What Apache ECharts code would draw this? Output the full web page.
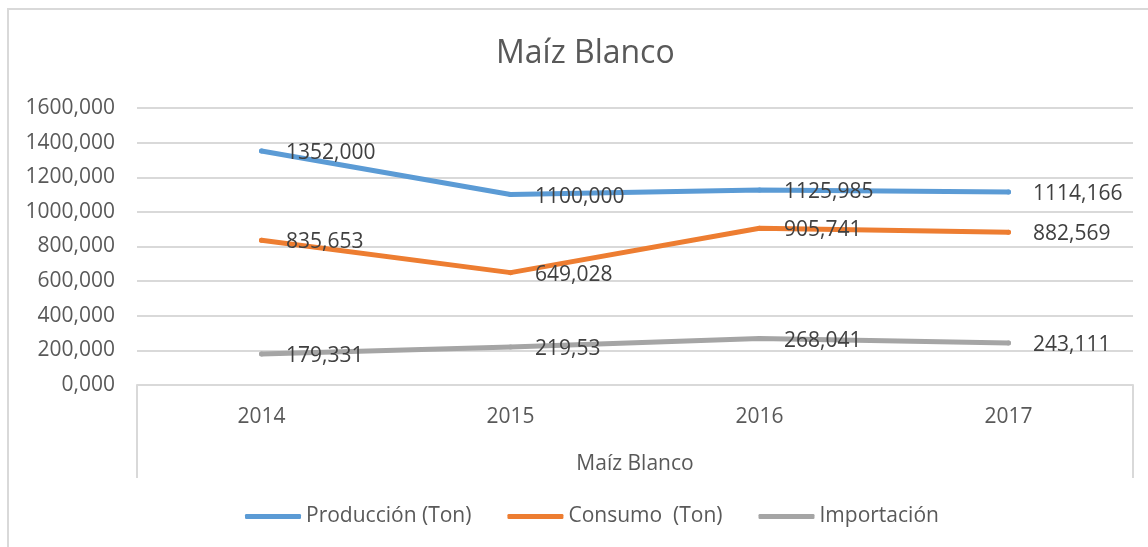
<!DOCTYPE html>
<html>
<head>
<meta charset="utf-8">
<script src="https://cdn.jsdelivr.net/npm/echarts@6/dist/echarts.min.js"></script>
<style>
  html, body { margin: 0; padding: 0; background: #fff; }
  #chart { width: 1148px; height: 547px; position: relative; }
  .frame {
    position: absolute; left: 7px; top: 8px; width: 1160px; height: 560px;
    border-left: 2px solid #d9d9d9; border-top: 2px solid #d9d9d9;
    pointer-events: none;
  }
</style>
</head>
<body>
<div id="chart"></div>
<div class="frame"></div>
<script>
const years = ["2014", "2015", "2016", "2017"]
const groupName = ["Maíz Blanco"]
const produccion = [1352, 1100, 1125.985, 1114.166]
const consumo = [835.653, 649.028, 905.741, 882.569]
const importacion = [179.331, 219.53, 268.041, 243.111]
const produccionLabels = ["1352,000", "1100,000", "1125,985", "1114,166"]
const consumoLabels = ["835,653", "649,028", "905,741", "882,569"]
const importacionLabels = ["179,331", "219,53", "268,041", "243,111"]

const font = "'Open Sans', 'DejaVu Sans', sans-serif"

const makeSeries = (name, values, labels, color) => ({
  name: name,
  type: "line",
  data: values,
  symbol: "circle",
  symbolSize: 5,
  itemStyle: { color: color },
  lineStyle: { width: 5, color: color, cap: "round", join: "round" },
  label: {
    show: true,
    position: "right",
    distance: 22,
    offset: [0, 2],
    fontFamily: font,
    fontSize: 21,
    color: "#404040",
    formatter: (p) => labels[p.dataIndex]
  },
  emphasis: { disabled: true },
  xAxisIndex: 0
})

const chart = echarts.init(document.getElementById("chart"))
chart.setOption({
  animation: false,
  title: {
    text: "Maíz Blanco",
    left: 491,
    top: 33,
    textStyle: { fontFamily: font, fontSize: 32, fontWeight: "normal", color: "#595959" }
  },
  legend: {
    left: 240,
    top: 501,
    icon: "roundRect",
    itemWidth: 56,
    itemHeight: 5,
    itemGap: 36,
    textStyle: { fontFamily: font, fontSize: 21, color: "#595959" },
    data: ["Producción (Ton)", "Consumo  (Ton)", "Importación"]
  },
  grid: { left: 137, right: 15, top: 108, bottom: 162 },
  xAxis: [
    {
      type: "category",
      data: years,
      boundaryGap: true,
      axisLine: { show: true, lineStyle: { color: "#d9d9d9", width: 2 } },
      axisTick: { show: false },
      axisLabel: { margin: 22, fontFamily: font, fontSize: 21, color: "#595959" }
    },
    {
      type: "category",
      data: groupName,
      position: "bottom",
      boundaryGap: true,
      axisLine: { show: false },
      axisTick: { show: true, length: 93, lineStyle: { color: "#d9d9d9", width: 2 } },
      axisLabel: { margin: 69, fontFamily: font, fontSize: 21, color: "#595959" }
    }
  ],
  yAxis: {
    type: "value",
    min: 0,
    max: 1600,
    interval: 200,
    axisLine: { show: false },
    axisTick: { show: false },
    splitLine: { lineStyle: { color: "#d9d9d9", width: 2 } },
    axisLabel: {
      margin: 22,
      fontFamily: font,
      fontSize: 21,
      color: "#595959",
      formatter: (v) => v + ",000"
    }
  },
  series: [
    makeSeries("Producción (Ton)", produccion, produccionLabels, "#5b9bd5"),
    makeSeries("Consumo  (Ton)", consumo, consumoLabels, "#ed7d31"),
    makeSeries("Importación", importacion, importacionLabels, "#a5a5a5")
  ]
})
</script>
</body>
</html>
